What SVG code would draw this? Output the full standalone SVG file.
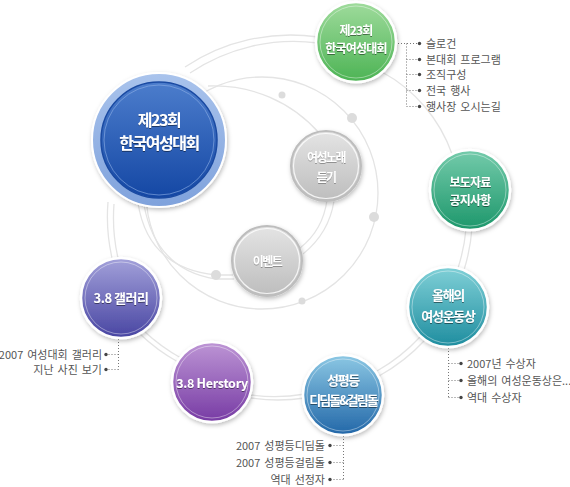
<svg xmlns="http://www.w3.org/2000/svg" width="570" height="487" viewBox="0 0 570 487">
<defs>
<style>
.bg{fill:none;stroke:#e4e4e4;stroke-width:1.3}
.dot{fill:#dcdcdc}
.dl{fill:none;stroke:#777;stroke-width:1;stroke-dasharray:1 2}
.bul{fill:#444}
.lt{font-family:"Noto Sans CJK KR","Noto Sans",sans-serif;font-size:11px;fill:#555;letter-spacing:0px;word-spacing:1.5px}
.nt{font-family:"Noto Sans CJK KR","Noto Sans",sans-serif;font-weight:bold;fill:#fff;text-anchor:middle;font-size:12px;letter-spacing:-0.8px}
.gt{font-family:"Noto Sans CJK KR","Noto Sans",sans-serif;font-weight:bold;fill:#fff;text-anchor:middle;font-size:12px;letter-spacing:-1.5px}
.ring{fill:none;stroke:#fff;stroke-opacity:0.4;stroke-width:1}
.nd{stroke:#fff;stroke-width:2.5}
</style>
<filter id="sh" x="-30%" y="-30%" width="160%" height="160%"><feDropShadow dx="1" dy="2" stdDeviation="2" flood-color="#000" flood-opacity="0.25"/></filter>
<filter id="ts" x="-10%" y="-30%" width="120%" height="160%"><feDropShadow dx="0" dy="1" stdDeviation="0.7" flood-color="#000" flood-opacity="0.45"/></filter>
<filter id="tg" x="-10%" y="-30%" width="120%" height="160%"><feDropShadow dx="0" dy="1" stdDeviation="0.7" flood-color="#666" flood-opacity="0.6"/></filter>
<linearGradient id="gMainO" x1="0" y1="0" x2="0" y2="1"><stop offset="0" stop-color="#a9c3ec"/><stop offset="1" stop-color="#7fa2dc"/></linearGradient>
<linearGradient id="gMain" x1="0" y1="0" x2="0" y2="1"><stop offset="0" stop-color="#4c7dcc"/><stop offset="1" stop-color="#1447a4"/></linearGradient>
<linearGradient id="gGreen" x1="0" y1="0" x2="0" y2="1"><stop offset="0" stop-color="#9fdb9c"/><stop offset="1" stop-color="#4cb354"/></linearGradient>
<linearGradient id="gPress" x1="0" y1="0" x2="0" y2="1"><stop offset="0" stop-color="#74cbab"/><stop offset="1" stop-color="#1d976b"/></linearGradient>
<linearGradient id="gAward" x1="0" y1="0" x2="0" y2="1"><stop offset="0" stop-color="#80d0d7"/><stop offset="1" stop-color="#1e8d9f"/></linearGradient>
<linearGradient id="gGal" x1="0" y1="0" x2="0" y2="1"><stop offset="0" stop-color="#a3a1da"/><stop offset="1" stop-color="#4845a2"/></linearGradient>
<linearGradient id="gHer" x1="0" y1="0" x2="0" y2="1"><stop offset="0" stop-color="#bd95d5"/><stop offset="1" stop-color="#773ba4"/></linearGradient>
<linearGradient id="gEq" x1="0" y1="0" x2="0" y2="1"><stop offset="0" stop-color="#8cc8e4"/><stop offset="1" stop-color="#2267a8"/></linearGradient>
<linearGradient id="gGray" x1="0" y1="0" x2="0" y2="1"><stop offset="0" stop-color="#e4e4e4"/><stop offset="1" stop-color="#bdbdbd"/></linearGradient>
</defs>
<rect width="570" height="487" fill="#fff"/>

<g id="connectors">
  <g id="outer-ring">
    <path class="bg" d="M185 67 A190 190 0 0 1 318 37"/>
    <path class="bg" d="M190 73 A186 186 0 0 1 318 43"/>
    <path class="bg" d="M382 72 A150 150 0 0 1 452 154"/>
    <path class="bg" d="M472 228 A185 185 0 0 1 464 270"/>
    <path class="bg" d="M466 229 A180 180 0 0 1 458 268"/>
    <path class="bg" d="M425 340 A185 185 0 0 1 379 376"/>
    <path class="bg" d="M420 337 A180 180 0 0 1 377 371"/>
    <path class="bg" d="M305 398 A185 185 0 0 1 251 398"/>
    <path class="bg" d="M305 394 A180 180 0 0 1 251 395"/>
    <path class="bg" d="M178 362 A185 185 0 0 1 140 334"/>
    <path class="bg" d="M181 358 A180 180 0 0 1 144 331"/>
    <path class="bg" d="M112 258 A185 185 0 0 1 108 202"/>
    <path class="bg" d="M118 258 A180 180 0 0 1 114 204"/>
  </g>
  <g id="inner-ring">
    <circle class="bg" cx="262" cy="193" r="116"/>
    <path class="bg" d="M208 86 A140 140 0 0 1 320 134"/>
    <path class="bg" d="M327 200 Q323 230 300 248"/>
    <path class="bg" d="M334 201 Q329 233 303 254"/>
    <path class="bg" d="M138 203 Q148 268 216 275 L233 275"/>
    <path class="bg" d="M144 205 Q156 270 216 279 L234 279"/>
  </g>
  <g id="dots">
    <circle class="dot" cx="282" cy="95" r="3.5"/>
    <circle class="dot" cx="352" cy="118" r="5"/>
    <circle class="dot" cx="374" cy="217" r="5"/>
    <circle class="dot" cx="216" cy="275" r="5"/>
    <circle class="dot" cx="302" cy="301" r="3.5"/>
  </g>
  <g id="list-lines">
    <path class="dl" d="M398 43.5H417M406.5 43.5V106.5M406.5 59.5H417M406.5 74.5H417M406.5 90.5H417M406.5 106.5H417"/>
    <path class="dl" d="M448.5 348V397.5M448.5 363.5H459M448.5 380.5H459M448.5 397.5H459"/>
    <path class="dl" d="M118.5 339V369.5M118.5 354.5H108M118.5 369.5H108"/>
    <path class="dl" d="M343.5 436V479.5M343.5 445.5H332M343.5 462.5H332M343.5 479.5H332"/>
  </g>
</g>

<g id="node-main">
  <circle cx="159" cy="140" r="67" fill="url(#gMainO)" stroke="#fff" stroke-width="2" filter="url(#sh)"/>
  <circle cx="159" cy="140" r="58" fill="url(#gMain)" stroke="#1a4aa2" stroke-width="1.5"/>
  <circle cx="159" cy="140" r="55" fill="none" stroke="#8fb0e6" stroke-opacity="0.6" stroke-width="1"/>
  <g class="nt" style="font-size:16px;letter-spacing:-1.5px" filter="url(#ts)">
    <text x="159" y="126">제23회</text>
    <text x="159" y="149">한국여성대회</text>
  </g>
</g>

<g id="node-green">
  <circle class="nd" cx="356" cy="42" r="40" fill="url(#gGreen)" filter="url(#sh)"/>
  <circle class="ring" cx="356" cy="42" r="36"/>
  <g class="nt" filter="url(#ts)">
    <text x="356" y="35">제23회</text>
    <text x="356" y="52.5">한국여성대회</text>
  </g>
</g>
<g id="list-green">
  <circle class="bul" cx="419.5" cy="43.5" r="1.7"/>
  <circle class="bul" cx="419.5" cy="59.5" r="1.7"/>
  <circle class="bul" cx="419.5" cy="74.5" r="1.7"/>
  <circle class="bul" cx="419.5" cy="90.5" r="1.7"/>
  <circle class="bul" cx="419.5" cy="106.5" r="1.7"/>
  <text class="lt" x="426" y="47.5">슬로건</text>
  <text class="lt" x="426" y="63.5">본대회 프로그램</text>
  <text class="lt" x="426" y="78.5">조직구성</text>
  <text class="lt" x="426" y="94.5">전국 행사</text>
  <text class="lt" x="426" y="110.5">행사장 오시는길</text>
</g>

<g id="node-press">
  <circle class="nd" cx="470" cy="190" r="40" fill="url(#gPress)" filter="url(#sh)"/>
  <circle class="ring" cx="470" cy="190" r="36"/>
  <g class="nt" filter="url(#ts)">
    <text x="470" y="187">보도자료</text>
    <text x="470" y="204.5">공지사항</text>
  </g>
</g>

<g id="node-award">
  <circle class="nd" cx="448" cy="307" r="40" fill="url(#gAward)" filter="url(#sh)"/>
  <circle class="ring" cx="448" cy="307" r="36"/>
  <g class="nt" style="font-size:13px;letter-spacing:-1.3px" filter="url(#ts)">
    <text x="448" y="300">올해의</text>
    <text x="448" y="321">여성운동상</text>
  </g>
</g>
<g id="list-award">
  <circle class="bul" cx="461" cy="363.5" r="1.7"/>
  <circle class="bul" cx="461" cy="380.5" r="1.7"/>
  <circle class="bul" cx="461" cy="397.5" r="1.7"/>
  <text class="lt" x="467" y="367.5">2007년 수상자</text>
  <text class="lt" x="467" y="384.5">올해의 여성운동상은...</text>
  <text class="lt" x="467" y="401.5">역대 수상자</text>
</g>

<g id="node-gallery">
  <circle class="nd" cx="121" cy="298" r="40" fill="url(#gGal)" filter="url(#sh)"/>
  <circle class="ring" cx="121" cy="298" r="36"/>
  <text class="nt" x="121" y="303" style="font-size:13px;letter-spacing:-0.5px" filter="url(#ts)">3.8 갤러리</text>
</g>
<g id="list-gallery">
  <circle class="bul" cx="106" cy="354.5" r="1.7"/>
  <circle class="bul" cx="106" cy="369.5" r="1.7"/>
  <text class="lt" x="102" y="358.5" text-anchor="end">2007 여성대회 갤러리</text>
  <text class="lt" x="102" y="373.5" text-anchor="end">지난 사진 보기</text>
</g>

<g id="node-herstory">
  <circle class="nd" cx="212" cy="382" r="40" fill="url(#gHer)" filter="url(#sh)"/>
  <circle class="ring" cx="212" cy="382" r="36"/>
  <text class="nt" x="212" y="387.5" style="font-size:12.5px;letter-spacing:-0.3px" filter="url(#ts)">3.8 Herstory</text>
</g>

<g id="node-equality">
  <circle class="nd" cx="343" cy="395" r="40" fill="url(#gEq)" filter="url(#sh)"/>
  <circle class="ring" cx="343" cy="395" r="36"/>
  <g class="nt" style="font-size:13px;letter-spacing:-1.3px" filter="url(#ts)">
    <text x="343" y="385">성평등</text>
    <text x="343" y="405" style="letter-spacing:-2px">디딤돌&amp;걸림돌</text>
  </g>
</g>
<g id="list-equality">
  <circle class="bul" cx="330" cy="445.5" r="1.7"/>
  <circle class="bul" cx="330" cy="462.5" r="1.7"/>
  <circle class="bul" cx="330" cy="479.5" r="1.7"/>
  <text class="lt" x="325" y="449.5" text-anchor="end">2007 성평등디딤돌</text>
  <text class="lt" x="325" y="466.5" text-anchor="end">2007 성평등걸림돌</text>
  <text class="lt" x="325" y="483.5" text-anchor="end">역대 선정자</text>
</g>

<g id="node-song">
  <circle cx="326" cy="166" r="35" fill="url(#gGray)" stroke="#bdbdbd" stroke-width="2" filter="url(#sh)"/>
  <circle cx="326" cy="166" r="32.5" fill="none" stroke="#fff" stroke-opacity="0.8" stroke-width="1.2"/>
  <g class="gt" filter="url(#tg)">
    <text x="326" y="162">여성노래</text>
    <text x="326" y="182">듣기</text>
  </g>
</g>

<g id="node-event">
  <circle cx="267" cy="261" r="35" fill="url(#gGray)" stroke="#bdbdbd" stroke-width="2" filter="url(#sh)"/>
  <circle cx="267" cy="261" r="32.5" fill="none" stroke="#fff" stroke-opacity="0.8" stroke-width="1.2"/>
  <text class="gt" x="267" y="266" filter="url(#tg)">이벤트</text>
</g>
</svg>
